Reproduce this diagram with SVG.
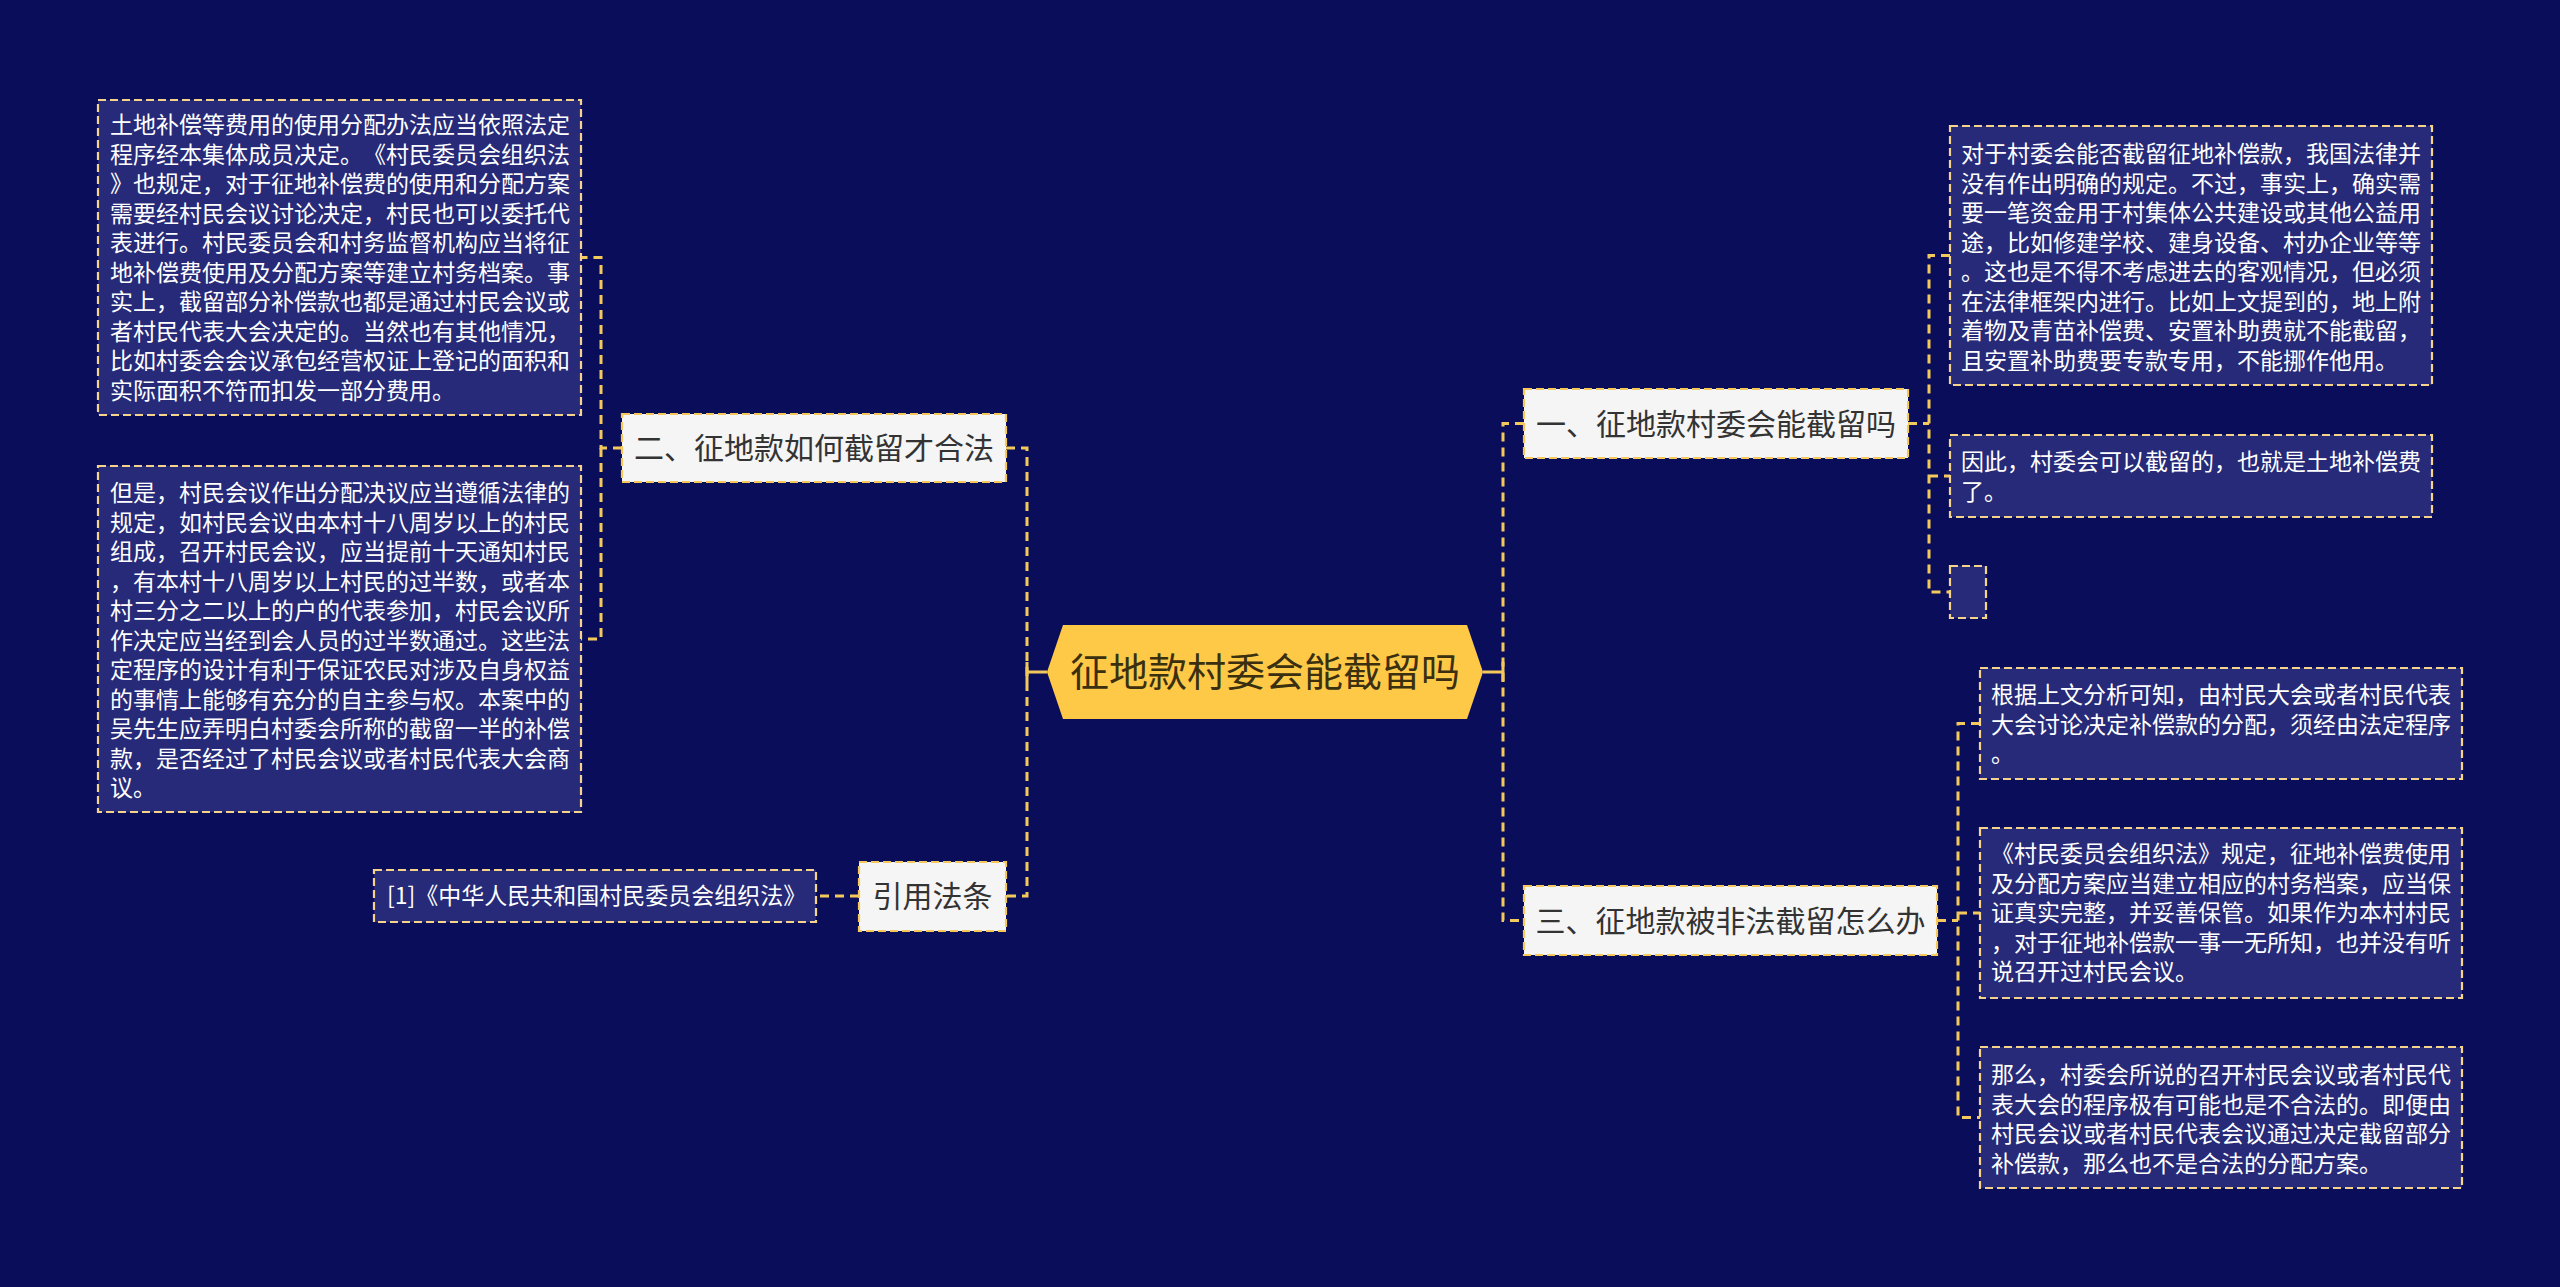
<svg xmlns="http://www.w3.org/2000/svg" width="2560" height="1287" viewBox="0 0 2560 1287">
<style>
.bg{fill:#0A0E5A}
.leaf{fill:#262A78;stroke:#F6D38A;stroke-width:2.2;stroke-dasharray:8 4}
.sub{fill:#F5F5F5;stroke:#F6C85A;stroke-width:2.2;stroke-dasharray:8 4}
.conn{fill:none;stroke:#F4C95C;stroke-width:3;stroke-dasharray:9 6}
.solid{fill:none;stroke:#F4C95C;stroke-width:3}
text{text-spacing-trim:space-all}
.lt{font-family:"Noto Sans CJK SC","Noto Sans",sans-serif;font-size:23px;fill:#FFFFFF}
.st{font-family:"Noto Sans CJK SC","Noto Sans",sans-serif;font-size:30px;fill:#333333;text-anchor:middle}
.ct{font-family:"Noto Sans CJK SC","Noto Sans",sans-serif;font-size:39px;fill:#3A3010;text-anchor:middle}
</style>
<rect class="bg" x="0" y="0" width="2560" height="1287"/>

<g id="connectors">
  <path class="conn" d="M622 448 H601 V257.5 H581"/>
  <path class="conn" d="M601 448 V639 H581"/>
  <path class="conn" d="M1006 448 H1027 V896 H1006"/>
  <path class="solid" d="M1047 672 H1027 M1027 662 V682"/>
  <path class="conn" d="M859 896 H816"/>
  <path class="solid" d="M1483 672 H1503 M1503 662 V682"/>
  <path class="conn" d="M1524 423.5 H1503 V920.5 H1524"/>
  <path class="conn" d="M1908 423.5 H1929 M1950 255.5 H1929 V592 H1950 M1929 476 H1950"/>
  <path class="conn" d="M1937 920.5 H1958 M1980 723.5 H1958 V1117.5 H1980 M1958 913 H1980"/>
</g>

<g id="root">
  <polygon points="1047,672 1063,625 1467,625 1483,672 1467,719 1063,719" fill="#FFC948"/>
  <text class="ct" x="1265" y="686">征地款村委会能截留吗</text>
</g>

<g id="n2">
  <rect class="sub" x="622" y="414" width="384" height="68"/>
  <text class="st" x="814" y="459">二、征地款如何截留才合法</text>
</g>
<g id="n2a">
  <rect class="leaf" x="98" y="100" width="483" height="315"/>
  <text class="lt">
    <tspan x="110" y="133">土地补偿等费用的使用分配办法应当依照法定</tspan>
    <tspan x="110" y="162.5">程序经本集体成员决定。《村民委员会组织法</tspan>
    <tspan x="110" y="192">》也规定，对于征地补偿费的使用和分配方案</tspan>
    <tspan x="110" y="221.5">需要经村民会议讨论决定，村民也可以委托代</tspan>
    <tspan x="110" y="251">表进行。村民委员会和村务监督机构应当将征</tspan>
    <tspan x="110" y="280.5">地补偿费使用及分配方案等建立村务档案。事</tspan>
    <tspan x="110" y="310">实上，截留部分补偿款也都是通过村民会议或</tspan>
    <tspan x="110" y="339.5">者村民代表大会决定的。当然也有其他情况，</tspan>
    <tspan x="110" y="369">比如村委会会议承包经营权证上登记的面积和</tspan>
    <tspan x="110" y="398.5">实际面积不符而扣发一部分费用。</tspan>
  </text>
</g>
<g id="n2b">
  <rect class="leaf" x="98" y="466" width="483" height="346"/>
  <text class="lt">
    <tspan x="110" y="501">但是，村民会议作出分配决议应当遵循法律的</tspan>
    <tspan x="110" y="530.5">规定，如村民会议由本村十八周岁以上的村民</tspan>
    <tspan x="110" y="560">组成，召开村民会议，应当提前十天通知村民</tspan>
    <tspan x="110" y="589.5">，有本村十八周岁以上村民的过半数，或者本</tspan>
    <tspan x="110" y="619">村三分之二以上的户的代表参加，村民会议所</tspan>
    <tspan x="110" y="648.5">作决定应当经到会人员的过半数通过。这些法</tspan>
    <tspan x="110" y="678">定程序的设计有利于保证农民对涉及自身权益</tspan>
    <tspan x="110" y="707.5">的事情上能够有充分的自主参与权。本案中的</tspan>
    <tspan x="110" y="737">吴先生应弄明白村委会所称的截留一半的补偿</tspan>
    <tspan x="110" y="766.5">款，是否经过了村民会议或者村民代表大会商</tspan>
    <tspan x="110" y="796">议。</tspan>
  </text>
</g>

<g id="n4">
  <rect class="sub" x="859" y="862" width="147" height="69"/>
  <text class="st" x="932.5" y="907">引用法条</text>
</g>
<g id="n4a">
  <rect class="leaf" x="374" y="870" width="442" height="52"/>
  <text class="lt" x="387" y="904">[1]《中华人民共和国村民委员会组织法》</text>
</g>

<g id="n1">
  <rect class="sub" x="1524" y="389" width="384" height="69"/>
  <text class="st" x="1716" y="434.5">一、征地款村委会能截留吗</text>
</g>
<g id="n1a">
  <rect class="leaf" x="1950" y="126" width="482" height="259"/>
  <text class="lt">
    <tspan x="1961" y="162">对于村委会能否截留征地补偿款，我国法律并</tspan>
    <tspan x="1961" y="191.5">没有作出明确的规定。不过，事实上，确实需</tspan>
    <tspan x="1961" y="221">要一笔资金用于村集体公共建设或其他公益用</tspan>
    <tspan x="1961" y="250.5">途，比如修建学校、建身设备、村办企业等等</tspan>
    <tspan x="1961" y="280">。这也是不得不考虑进去的客观情况，但必须</tspan>
    <tspan x="1961" y="309.5">在法律框架内进行。比如上文提到的，地上附</tspan>
    <tspan x="1961" y="339">着物及青苗补偿费、安置补助费就不能截留，</tspan>
    <tspan x="1961" y="368.5">且安置补助费要专款专用，不能挪作他用。</tspan>
  </text>
</g>
<g id="n1b">
  <rect class="leaf" x="1950" y="435" width="482" height="82"/>
  <text class="lt">
    <tspan x="1961" y="470">因此，村委会可以截留的，也就是土地补偿费</tspan>
    <tspan x="1961" y="499.5">了。</tspan>
  </text>
</g>
<g id="n1c">
  <rect class="leaf" x="1950" y="566" width="36" height="52"/>
</g>

<g id="n3">
  <rect class="sub" x="1524" y="886" width="413" height="69"/>
  <text class="st" x="1730.5" y="931.5">三、征地款被非法截留怎么办</text>
</g>
<g id="n3a">
  <rect class="leaf" x="1980" y="668" width="482" height="111"/>
  <text class="lt">
    <tspan x="1991" y="703">根据上文分析可知，由村民大会或者村民代表</tspan>
    <tspan x="1991" y="732.5">大会讨论决定补偿款的分配，须经由法定程序</tspan>
    <tspan x="1991" y="762">。</tspan>
  </text>
</g>
<g id="n3b">
  <rect class="leaf" x="1980" y="828" width="482" height="170"/>
  <text class="lt">
    <tspan x="1991" y="862">《村民委员会组织法》规定，征地补偿费使用</tspan>
    <tspan x="1991" y="891.5">及分配方案应当建立相应的村务档案，应当保</tspan>
    <tspan x="1991" y="921">证真实完整，并妥善保管。如果作为本村村民</tspan>
    <tspan x="1991" y="950.5">，对于征地补偿款一事一无所知，也并没有听</tspan>
    <tspan x="1991" y="980">说召开过村民会议。</tspan>
  </text>
</g>
<g id="n3c">
  <rect class="leaf" x="1980" y="1047" width="482" height="141"/>
  <text class="lt">
    <tspan x="1991" y="1083">那么，村委会所说的召开村民会议或者村民代</tspan>
    <tspan x="1991" y="1112.5">表大会的程序极有可能也是不合法的。即便由</tspan>
    <tspan x="1991" y="1142">村民会议或者村民代表会议通过决定截留部分</tspan>
    <tspan x="1991" y="1171.5">补偿款，那么也不是合法的分配方案。</tspan>
  </text>
</g>
</svg>
